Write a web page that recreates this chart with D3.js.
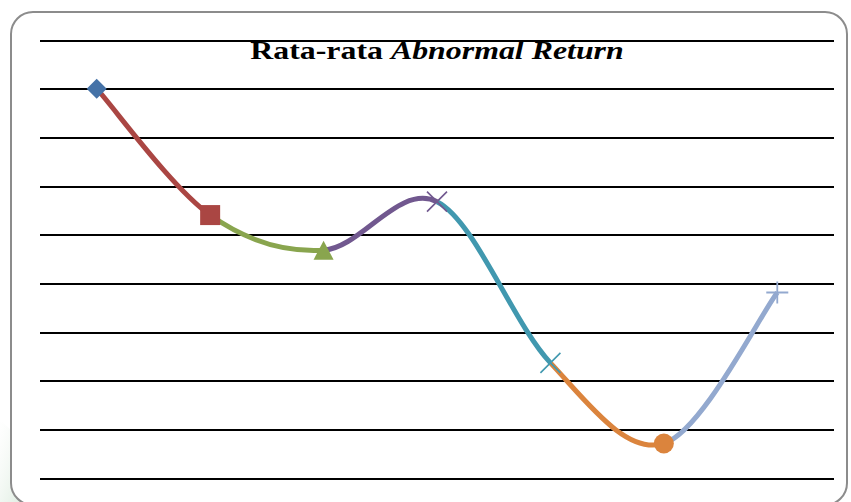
<!DOCTYPE html>
<html><head><meta charset="utf-8">
<script src="https://cdn.jsdelivr.net/npm/d3@7"></script>
<style>html,body{margin:0;padding:0;background:#fff;}svg{display:block;}</style>
</head><body>
<svg id="chart" width="851" height="502"></svg>
<script>
const categories = ["1","2","3","4","5","6","7"];
const values = [0.0020, -0.00319, -0.00463, -0.00264, -0.00926, -0.01257, -0.00637];
const gridTicks = [0.004, 0.002, 0, -0.002, -0.004, -0.006, -0.008, -0.010, -0.012, -0.014];
const colors = ["#4572A7", "#AA4643", "#89A54E", "#71588F", "#4198AF", "#DB843D", "#93A9CF"];
const markers = ["diamond", "square", "triangle", "x", "star", "circle", "plus"];
const titleParts = [{t:"Rata-rata ", italic:false}, {t:"Abnormal Return", italic:true}];

const svg = d3.select("#chart");
const plot = {left: 40, right: 834, top: 40, bottom: 478.3};

// faint shadow bottom-left
const defs = svg.append("defs");
const g1 = defs.append("linearGradient").attr("id","sh").attr("x1","0").attr("y1","0").attr("x2","1").attr("y2","1");
g1.append("stop").attr("offset","0").attr("stop-color","#eef5ee").attr("stop-opacity",0);
g1.append("stop").attr("offset","1").attr("stop-color","#d8eadb").attr("stop-opacity",1);
svg.append("path").attr("d","M0,420 L11,430 L11,485 Q14,502 30,502 L0,502 Z").attr("fill","url(#sh)");

// frame
svg.append("rect").attr("x",11).attr("y",12).attr("width",836).attr("height",493)
  .attr("rx",22).attr("ry",22).attr("fill","#fff").attr("stroke","#8c8c8c").attr("stroke-width",2);

const x = d3.scaleBand().domain(categories).range([plot.left, plot.right]);
const y = d3.scaleLinear().domain([gridTicks[gridTicks.length-1], gridTicks[0]]).range([plot.bottom, plot.top]);

// gridlines via axis
const yAxis = d3.axisLeft(y).tickValues(gridTicks).tickSize(-(plot.right-plot.left)).tickFormat("");
const ga = svg.append("g").attr("transform",`translate(${plot.left},0)`).call(yAxis);
ga.select(".domain").remove();
ga.selectAll(".tick line").attr("stroke","#000").attr("stroke-width",2).attr("shape-rendering","crispEdges");

// title (horizontally stretched like the reference)
const title = svg.append("text")
  .attr("transform",`translate(${(plot.left+plot.right)/2},59) scale(1.275,1)`)
  .attr("text-anchor","middle").attr("font-family","'Liberation Serif','Times New Roman',serif")
  .attr("font-weight","bold").attr("font-size",25).attr("fill","#000");
titleParts.forEach(p => title.append("tspan").attr("font-style", p.italic ? "italic" : "normal").text(p.t));

// points
const pts = categories.map((c,i) => [x(c) + x.bandwidth()/2, y(values[i])]);

// smooth segments (Catmull-Rom / cardinal tension 0), each colored by end point
for (let i = 0; i < pts.length-1; i++) {
  const p0 = pts[Math.max(0,i-1)], p1 = pts[i], p2 = pts[i+1], p3 = pts[Math.min(pts.length-1,i+2)];
  const c1 = [p1[0] + (p2[0]-p0[0])/6, p1[1] + (p2[1]-p0[1])/6];
  const c2 = [p2[0] - (p3[0]-p1[0])/6, p2[1] - (p3[1]-p1[1])/6];
  const path = d3.path();
  path.moveTo(p1[0], p1[1]);
  path.bezierCurveTo(c1[0], c1[1], c2[0], c2[1], p2[0], p2[1]);
  svg.append("path").attr("d", path.toString()).attr("fill","none")
    .attr("stroke", colors[i+1]).attr("stroke-width",5).attr("stroke-linecap","butt");
}

// markers
const mg = svg.append("g");
pts.forEach((p,i) => {
  const col = colors[i], m = markers[i];
  const g = mg.append("g").attr("transform",`translate(${p[0]},${p[1]})`);
  if (m === "diamond") g.append("path").attr("d","M0,-10L10,0L0,10L-10,0Z").attr("fill",col);
  else if (m === "square") g.append("rect").attr("x",-10).attr("y",-10).attr("width",20).attr("height",20).attr("fill",col);
  else if (m === "triangle") g.append("path").attr("d","M0,-9.5L10,9.5L-10,9.5Z").attr("fill",col);
  else if (m === "circle") g.append("circle").attr("r",10).attr("fill",col);
  else if (m === "x" || m === "star") g.append("path").attr("d","M-10,-10L10,10M10,-10L-10,10").attr("stroke",col).attr("stroke-width",1.6).attr("fill","none");
  else if (m === "plus") g.append("path").attr("d","M-11,0L11,0M0,-11L0,11").attr("stroke",col).attr("stroke-width",1.8).attr("fill","none");
});
</script>
</body></html>
